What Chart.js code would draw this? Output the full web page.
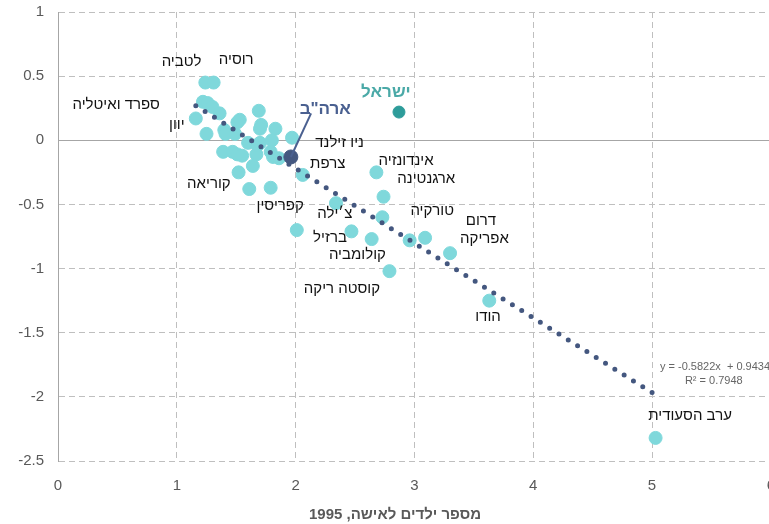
<!DOCTYPE html>
<html><head><meta charset="utf-8">
<script src="https://cdn.jsdelivr.net/npm/chart.js@4"></script>
<style>html,body{margin:0;padding:0;overflow:hidden;background:#fff}#wrap{width:791px;height:524px}</style>
</head><body><div id="wrap"><canvas id="c" width="791" height="524"></canvas></div>
<script>
// ---- data ----
const countryX = [1.24,1.31,1.22,1.26,1.30,1.36,1.16,1.25,1.40,1.41,1.51,1.53,1.49,1.69,1.71,1.70,1.83,1.97,1.39,1.47,1.51,1.55,1.60,1.67,1.68,1.80,1.79,1.81,1.64,1.52,1.61,1.79,2.06,2.01,2.34,2.47,2.64,2.68,2.74,2.73,2.79,2.96,3.09,3.30,3.63,5.03,1.86,1.70];
const countryY = [0.45,0.45,0.30,0.29,0.26,0.21,0.17,0.05,0.08,0.05,0.14,0.16,0.05,0.23,0.12,0.09,0.09,0.02,-0.09,-0.09,-0.11,-0.12,-0.02,-0.11,-0.04,0.00,-0.09,-0.13,-0.20,-0.25,-0.38,-0.37,-0.27,-0.70,-0.49,-0.71,-0.77,-0.25,-0.44,-0.60,-1.02,-0.78,-0.76,-0.88,-1.25,-2.32,-0.14,-0.02];
const israelX = [2.87], israelY = [0.22];
const usaX = [1.96], usaY = [-0.13];
const trendX = [1.16, 5.04], trendY = [0.27, -1.99];
const xTicks = [0,1,2,3,4,5,6];
const yTicks = [1,0.5,0,-0.5,-1,-1.5,-2,-2.5];
const labelText = ['לטביה','רוסיה','ספרד ואיטליה','יוון','קוריאה','ניו זילנד','צרפת','אינדונזיה','ארגנטינה','קפריסין','צ׳ילה','טורקיה','דרום','אפריקה','ברזיל','קולומביה','קוסטה ריקה','הודו','ערב הסעודית'];
const labelX = [1.04,1.50,0.49,1.00,1.27,2.37,2.27,2.93,3.10,1.87,2.33,3.15,3.56,3.59,2.29,2.52,2.39,3.62,5.32];
const labelY = [0.61,0.625,0.28,0.12,-0.34,-0.02,-0.18,-0.16,-0.30,-0.51,-0.57,-0.55,-0.63,-0.77,-0.76,-0.89,-1.16,-1.38,-2.15];
const israelLabel = 'ישראל', usaLabel = 'ארה"ב';
const eqLine1 = 'y = -0.5822x  + 0.9434', eqLine2 = 'R² = 0.7948';
const xTitle = 'מספר ילדים לאישה, 1995';

const zip = (xs, ys) => xs.map((x, i) => ({x, y: ys[i]}));

const annot = {
  id: 'annot',
  afterDatasetsDraw(chart) {
    const {ctx, scales: {x, y}} = chart;
    ctx.save();
    ctx.direction = 'rtl';
    ctx.textAlign = 'center';
    ctx.textBaseline = 'middle';
    ctx.font = '15px "Liberation Sans", Arial, sans-serif';
    ctx.fillStyle = '#111111';
    labelText.forEach((t, i) => ctx.fillText(t, x.getPixelForValue(labelX[i]), y.getPixelForValue(labelY[i])));
    ctx.font = 'bold 17px "Liberation Sans", Arial, sans-serif';
    ctx.fillStyle = '#4aa9a7';
    ctx.fillText(israelLabel, x.getPixelForValue(2.76), y.getPixelForValue(0.375));
    ctx.fillStyle = '#4a6090';
    ctx.fillText(usaLabel, x.getPixelForValue(2.25), y.getPixelForValue(0.24));
    ctx.strokeStyle = '#4a6090';
    ctx.lineWidth = 2;
    ctx.beginPath();
    ctx.moveTo(x.getPixelForValue(2.13), y.getPixelForValue(0.21));
    ctx.lineTo(x.getPixelForValue(usaX[0]), y.getPixelForValue(usaY[0]));
    ctx.stroke();
    ctx.direction = 'ltr';
    ctx.font = '11px "Liberation Sans", Arial, sans-serif';
    ctx.fillStyle = '#666666';
    ctx.fillText(eqLine1, x.getPixelForValue(5.53), y.getPixelForValue(-1.77));
    ctx.fillText(eqLine2, x.getPixelForValue(5.52), y.getPixelForValue(-1.875));
    ctx.direction = 'rtl';
    ctx.font = 'bold 15px "Liberation Sans", Arial, sans-serif';
    ctx.fillStyle = '#595959';
    ctx.fillText(xTitle, 395, 515);
    ctx.restore();
  }
};

new Chart(document.getElementById('c'), {
  type: 'scatter',
  data: {
    datasets: [
      {label: 'usa', data: zip(usaX, usaY), backgroundColor: '#44577f', borderColor: '#44577f', pointRadius: 7, order: 0},
      {label: 'israel', data: zip(israelX, israelY), backgroundColor: '#2e9c9a', borderColor: '#2e9c9a', pointRadius: 6, order: 1},
      {label: 'trend', type: 'line', data: zip(trendX, trendY), showLine: true, pointRadius: 0, borderColor: '#44577f', borderWidth: 5, borderDash: [0, 11], borderCapStyle: 'round', fill: false, order: 2},
      {label: 'countries', data: zip(countryX, countryY), backgroundColor: '#7fd8db', borderColor: '#7fd8db', pointRadius: 6.5, order: 3}
    ]
  },
  options: {
    responsive: false,
    animation: false,
    layout: {padding: {top: 12, right: 0, left: 0, bottom: 0}},
    plugins: {legend: {display: false}, tooltip: {enabled: false}},
    scales: {
      x: {
        type: 'linear', min: 0, max: 6,
        afterBuildTicks: s => { s.ticks = xTicks.map(v => ({value: v})); },
        afterFit: s => { s.height = 63; },
        ticks: {color: '#595959', callback: v => String(v), font: {size: 15, family: '"Liberation Sans Narrow", "Liberation Sans", Arial, sans-serif'}, padding: 16},
        grid: {color: '#bfbfbf', drawTicks: false},
        border: {display: false, dash: [6, 4]}
      },
      y: {
        type: 'linear', min: -2.5, max: 1,
        afterBuildTicks: s => { s.ticks = yTicks.map(v => ({value: v})); },
        afterFit: s => { s.width = 58; s.paddingTop = 0; s.paddingBottom = 0; },
        ticks: {color: '#595959', callback: v => String(v), font: {size: 15, family: '"Liberation Sans Narrow", "Liberation Sans", Arial, sans-serif'}, padding: 14},
        grid: {color: ctx => (ctx.tick && ctx.tick.value === 0) ? '#a6a6a6' : '#bfbfbf', drawTicks: false},
        border: {display: true, color: '#a6a6a6', dash: ctx => (ctx.tick && ctx.tick.value === 0) ? [] : [6, 4]}
      }
    }
  },
  plugins: [annot]
});
</script>
</body></html>
